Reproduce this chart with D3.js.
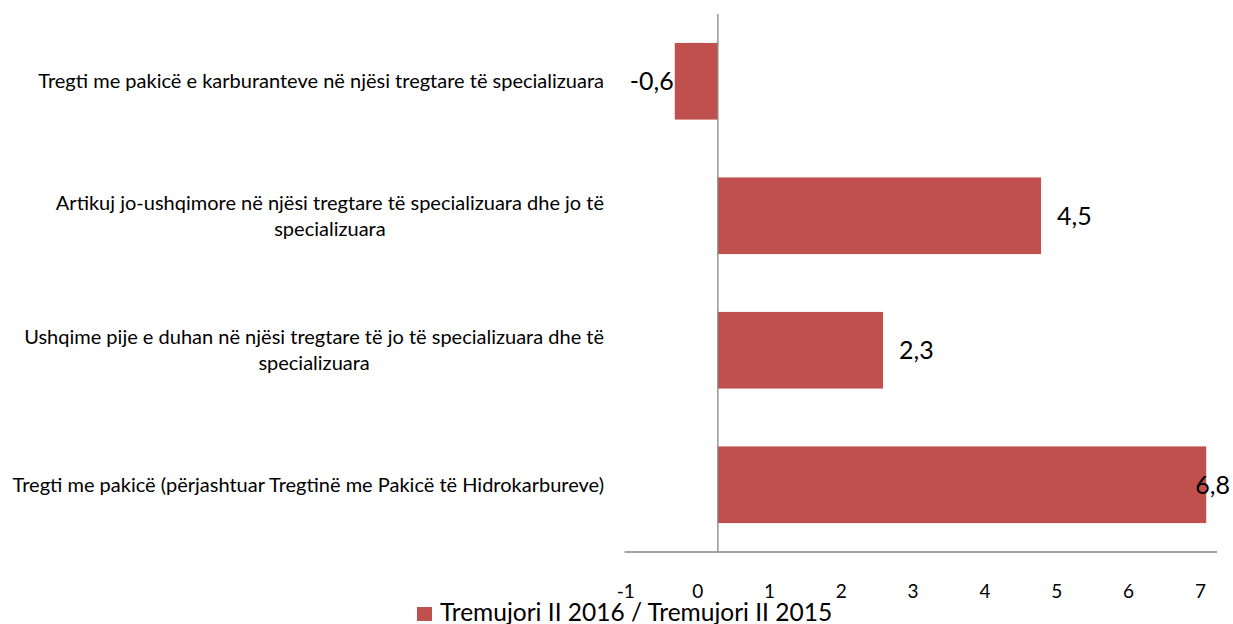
<!DOCTYPE html>
<html lang="en">
<head>
  <meta charset="UTF-8" />
  <title>Tregtia me pakicë</title>
  <style>
    body {
      margin: 0;
      background: #fff;
      font-family: Lato, "Open Sans", sans-serif;
    }
    .cat-label { font-size: 20px; fill: #000; }
    .value-label { font-size: 25px; fill: #000; }
    .x-axis text { font-size: 19px; fill: #000; font-family: Lato, sans-serif; }
    .legend-text { font-size: 24.5px; fill: #000; }
  </style>
  <script src="https://d3js.org/d3.v7.min.js"></script>
</head>
<body>
  <div id="chart"></div>
  <script>
    const width = 1233;
    const height = 624;

    // chart data
    const categories = [
      "Tregti me pakicë e karburanteve në njësi tregtare të specializuara",
      "Artikuj jo-ushqimore në njësi tregtare të specializuara dhe jo të\nspecializuara",
      "Ushqime pije e duhan në njësi tregtare të jo të specializuara dhe të\nspecializuara",
      "Tregti me pakicë (përjashtuar Tregtinë me Pakicë të Hidrokarbureve)"
    ];
    const values = [-0.6, 4.5, 2.3, 6.8];
    const tickValues = [-1, 0, 1, 2, 3, 4, 5, 6, 7];
    const seriesName = "Tremujori II 2016 / Tremujori II 2015";

    const barColor = "#C0504D";
    const axisColor = "#868686";
    const fmt = v => String(v).replace(".", ",");

    const svg = d3.select("#chart")
      .append("svg")
      .attr("width", width)
      .attr("height", height);

    const x = d3.scaleLinear()
      .domain([-1.3, 6.95])
      .range([624.5, 1217]);

    const y = d3.scaleBand()
      .domain(categories)
      .range([14, 552])
      .paddingInner(0.43)
      .paddingOuter(0.215);

    // bars
    svg.selectAll("rect.bar")
      .data(values)
      .enter()
      .append("rect")
      .attr("class", "bar")
      .attr("x", d => x(Math.min(0, d)))
      .attr("y", (d, i) => y(categories[i]))
      .attr("width", d => Math.abs(x(d) - x(0)))
      .attr("height", y.bandwidth())
      .attr("fill", barColor);

    // axes lines
    svg.append("line")
      .attr("x1", x(0)).attr("x2", x(0))
      .attr("y1", y.range()[0]).attr("y2", y.range()[1])
      .attr("stroke", axisColor).attr("stroke-width", 1.3);

    svg.append("line")
      .attr("x1", x.range()[0]).attr("x2", x.range()[1])
      .attr("y1", y.range()[1]).attr("y2", y.range()[1])
      .attr("stroke", axisColor).attr("stroke-width", 1.3);

    // x tick labels (shifted left like the original)
    const xAxis = svg.append("g")
      .attr("class", "x-axis")
      .attr("transform", `translate(-20.7, ${y.range()[1]})`)
      .call(d3.axisBottom(x).tickValues(tickValues).tickSize(0).tickPadding(0).tickFormat(d => d));
    xAxis.select(".domain").remove();
    xAxis.selectAll("text").attr("dy", null).attr("y", 46);

    // category labels, lines centred within a right-aligned block
    const labelRight = 604;
    const lineHeight = 26;
    categories.forEach((cat, i) => {
      const lines = cat.split("\n");
      const cy = y(cat) + y.bandwidth() / 2;
      const g = svg.append("g");
      const texts = lines.map((ln, j) => g.append("text")
        .attr("class", "cat-label")
        .attr("text-anchor", "middle")
        .attr("y", cy + (j - (lines.length - 1) / 2) * lineHeight)
        .attr("dy", "0.35em")
        .text(ln));
      const maxW = d3.max(texts, t => t.node().getComputedTextLength());
      texts.forEach(t => t.attr("x", labelRight - maxW / 2));
    });

    // value labels
    values.forEach((v, i) => {
      const cy = y(categories[i]) + y.bandwidth() / 2;
      const t = svg.append("text")
        .attr("class", "value-label")
        .attr("y", cy)
        .attr("dy", "0.35em")
        .text(fmt(v));
      const w = t.node().getComputedTextLength();
      if (v < 0) {
        t.attr("x", x(v) - w - 1);
      } else {
        t.attr("x", Math.min(x(v) + 16, width - 3 - w));
      }
    });

    // legend
    const legend = svg.append("g");
    legend.append("rect")
      .attr("x", 417).attr("y", 607)
      .attr("width", 15).attr("height", 14)
      .attr("fill", barColor);
    legend.append("text")
      .attr("class", "legend-text")
      .attr("x", 440).attr("y", 621)
      .text(seriesName);
  </script>
</body>
</html>
